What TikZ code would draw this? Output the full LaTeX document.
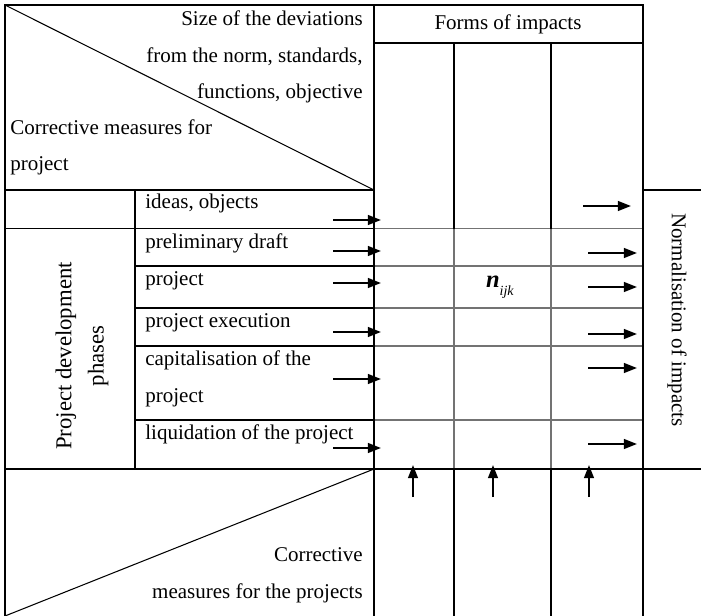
\documentclass[tikz,border=0pt]{standalone}
\usepackage{fontspec}
\setmainfont{Liberation Serif}
\usetikzlibrary{arrows.meta}

\begin{document}
\begin{tikzpicture}[
		x=0.5715pt, y=-0.5715pt,
		>={Triangle[length=7.5pt,width=5.6pt]},
		frame/.style={line width=0.6pt,black},
		cellline/.style={line width=0.85pt,black!55},
		flow/.style={->,line width=1.1pt},
		txt/.style={font=\fontsize{12}{20.9}\selectfont,inner sep=0pt},
	]
	\useasboundingbox (0,0) rectangle (701,616);

	% ---------- matrix cells (grey) ----------
	\foreach \y in {228.5,266,308,346,420}
		\draw[cellline] (374,\y) -- (643,\y);
	\foreach \x in {454,551}
		\draw[cellline] (\x,228.5) -- (\x,469);

	% ---------- frame ----------
	\draw[frame] (5,616) -- (5,5) -- (643,5) -- (643,616);
	\draw[frame] (374,5) -- (374,616);
	\draw[frame] (5,190) -- (374,190);
	\draw[frame] (5,5) -- (374,190);
	\draw[frame] (374,43) -- (643,43);
	\foreach \x in {454,551} {
		\draw[frame] (\x,43) -- (\x,228.5);
		\draw[frame] (\x,469) -- (\x,616);
	}
	\draw[frame] (5,228.5) -- (374,228.5);
	\draw[frame] (135,190) -- (135,469);
	\foreach \y in {266,308,346,420}
		\draw[frame] (135,\y) -- (374,\y);
	\draw[frame] (643,190) -- (701,190);
	\draw[frame] (5,469) -- (701,469);
	\draw[frame] (5,616) -- (374,469);

	% ---------- head texts ----------
	\node[txt,anchor=east,align=right] (deviations) at (363,57)
		{Size of the deviations\\from the norm, standards,\\functions, objective};
	\node[txt,anchor=west,align=left] (measures) at (10,147.5)
		{Corrective measures for\\project};
	\node[txt] (forms) at (508,24) {Forms of impacts};

	% ---------- phases ----------
	\node[txt,font=\fontsize{13}{18.5}\selectfont,rotate=90,align=center]
		(phases) at (82,356) {Project development\\phases};
	\node[txt,anchor=west] (ideas) at (145,203) {ideas, objects};
	\node[txt,anchor=west] (draft) at (145,243) {preliminary draft};
	\node[txt,anchor=west] (proj) at (145,281) {project};
	\node[txt,anchor=west] (execution) at (145,323) {project execution};
	\node[txt,anchor=west,align=left] (capital) at (145,379)
		{capitalisation of the\\project};
	\node[txt,anchor=west] (liquidation) at (145,434) {liquidation of the project};
	\node[txt] (nijk) at (500,287)
		{\fontsize{14}{14}\selectfont\textbf{\textit{n}}%
		\raisebox{-0.7ex}{\fontsize{8}{8}\selectfont\textit{ijk}}};
	\node[txt,rotate=-90] (normalisation) at (677,320) {Normalisation of impacts};

	% ---------- bottom ----------
	\node[txt,anchor=east,align=right] (correct) at (363,575)
		{Corrective\\measures for the projects};

	% ---------- arrows ----------
	\foreach \y in {220,251,283,332,379,448}
		\draw[flow] (333,\y) -- (381,\y);
	\draw[flow] (583,206) -- (631,206);
	\foreach \y in {253,287,334,368,444}
		\draw[flow] (588,\y) -- (637,\y);
	\foreach \x in {413,493,589}
		\draw[flow] (\x,497) -- (\x,465);

\end{tikzpicture}
\end{document}
